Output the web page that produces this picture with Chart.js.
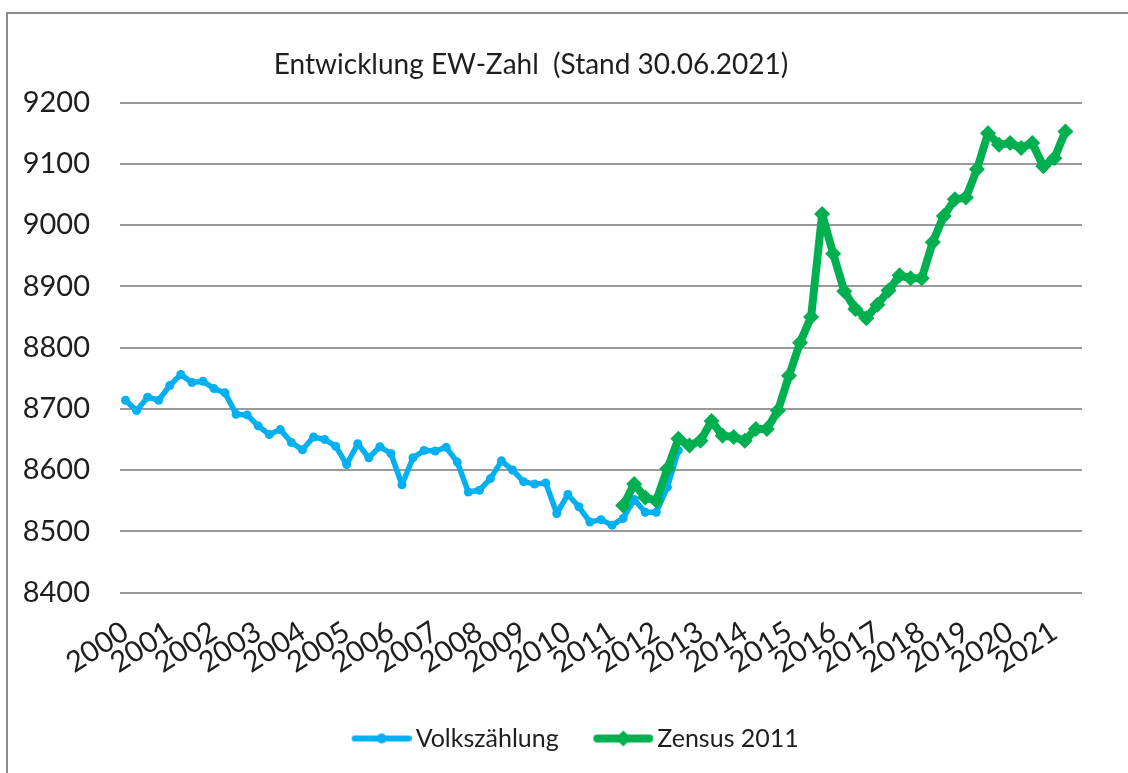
<!DOCTYPE html>
<html lang="de">
<head>
  <meta charset="UTF-8" />
  <title>Entwicklung EW-Zahl</title>
  <script src="https://cdn.jsdelivr.net/npm/chart.js"></script>
  <style>
    html, body { margin: 0; padding: 0; background: #fff; overflow: hidden; }
    #chart { display: block; }
  </style>
</head>
<body>
  <canvas id="chart" width="1128" height="773"></canvas>

  <script>
    // Quartale 2000 bis 2021
    const years = [2000, 2001, 2002, 2003, 2004, 2005, 2006, 2007, 2008, 2009, 2010,
                   2011, 2012, 2013, 2014, 2015, 2016, 2017, 2018, 2019, 2020, 2021];
    const quarterEnds = ['31.03.', '30.06.', '30.09.', '31.12.'];
    const lastCategory = '30.09.2021';

    // Einwohner Fortschreibung Volkszählung (ab 31.03.2000)
    const volkszaehlung = [
      8714, 8697, 8719, 8714, 8738, 8756, 8743, 8745, 8733, 8726,
      8691, 8690, 8672, 8658, 8666, 8645, 8633, 8654, 8650, 8639,
      8609, 8643, 8620, 8638, 8627, 8576, 8620, 8632, 8631, 8637,
      8613, 8564, 8567, 8586, 8615, 8600, 8581, 8577, 8579, 8529,
      8560, 8540, 8515, 8519, 8510, 8521, 8552, 8531, 8531, 8572,
      8632
    ];

    // Einwohner Fortschreibung Zensus 2011 (ab 30.06.2011)
    const zensusStart = '30.06.2011';
    const zensus2011 = [
      8542, 8577, 8555, 8550, 8602, 8651, 8640, 8648, 8680, 8656,
      8654, 8648, 8667, 8667, 8697, 8754, 8808, 8850, 9018, 8953,
      8892, 8863, 8848, 8870, 8893, 8918, 8913, 8913, 8972, 9015,
      9042, 9045, 9091, 9150, 9131, 9134, 9126, 9134, 9096, 9109,
      9153
    ];

    const yMin = 8400, yMax = 9200, yStep = 100;

    const blue = '#00b0f0';
    const green = '#00b050';
    const textColor = '#1e1e1e';
    const fontFamily = 'Lato, "Open Sans", sans-serif';

    // Kategorien aufbauen
    const categories = [];
    for (const y of years) {
      for (const q of quarterEnds) {
        if (categories[categories.length - 1] === lastCategory) break;
        categories.push(q + y);
      }
    }
    const blueData = categories.map((c, i) => i < volkszaehlung.length ? volkszaehlung[i] : null);
    const gStart = categories.indexOf(zensusStart);
    const greenData = categories.map((c, i) => {
      const k = i - gStart;
      return k >= 0 && k < zensus2011.length ? zensus2011[k] : null;
    });

    // Legendensymbol: Linie mit Marker
    const BOX_W = 76;
    function legendSymbol(color, lineW, marker, r) {
      const c = document.createElement('canvas');
      c.width = BOX_W + 17;
      c.height = 24;
      const g = c.getContext('2d');
      const x0 = c.width - 60, x1 = c.width, cy = 12;
      g.strokeStyle = color;
      g.fillStyle = color;
      g.lineWidth = lineW;
      g.lineCap = 'round';
      g.beginPath();
      g.moveTo(x0 + lineW / 2, cy);
      g.lineTo(x1 - lineW / 2, cy);
      g.stroke();
      const cx = (x0 + x1) / 2;
      g.beginPath();
      if (marker === 'circle') {
        g.arc(cx, cy, r, 0, Math.PI * 2);
      } else {
        g.moveTo(cx, cy - r); g.lineTo(cx + r, cy); g.lineTo(cx, cy + r); g.lineTo(cx - r, cy);
        g.closePath();
      }
      g.fill();
      return c;
    }
    const symbols = [legendSymbol(blue, 6, 'circle', 5), legendSymbol(green, 8, 'diamond', 8)];

    // Rahmen (links/oben) und Verschiebung von Titel/Legende wie im Original
    const frame = {
      id: 'frame',
      beforeDraw(chart) {
        const ctx = chart.ctx;
        ctx.save();
        ctx.strokeStyle = '#8c8c8c';
        ctx.lineWidth = 2;
        ctx.beginPath();
        ctx.moveTo(7, chart.height + 5);
        ctx.lineTo(7, 13);
        ctx.lineTo(chart.width + 5, 13);
        ctx.stroke();
        ctx.restore();
      },
      afterLayout(chart) {
        chart.titleBlock.left -= 10; chart.titleBlock.right -= 10;
        chart.legend.left += 22; chart.legend.right += 22;
      }
    };

    new Chart(document.getElementById('chart'), {
      type: 'line',
      data: {
        labels: categories,
        datasets: [
          {
            label: 'Volkszählung',
            data: blueData,
            borderColor: blue,
            backgroundColor: blue,
            borderWidth: 5.5,
            pointRadius: 4.5,
            pointBorderWidth: 0,
            pointStyle: 'circle',
            borderJoinStyle: 'round',
            borderCapStyle: 'round',
            tension: 0,
            order: 2,
          },
          {
            label: 'Zensus 2011',
            data: greenData,
            borderColor: green,
            backgroundColor: green,
            borderWidth: 8,
            pointRadius: 8,
            pointBorderWidth: 0,
            pointStyle: 'rectRot',
            borderJoinStyle: 'round',
            borderCapStyle: 'round',
            tension: 0,
            order: 1,
          },
        ],
      },
      options: {
        responsive: false,
        devicePixelRatio: 1,
        animation: false,
        layout: { padding: { left: 0, right: 46, top: 0, bottom: 12 } },
        scales: {
          x: {
            offset: true,
            grid: { display: false, drawTicks: false },
            border: { display: false },
            afterFit: scale => { scale.height = 123.5; },
            ticks: {
              autoSkip: false,
              minRotation: 33,
              maxRotation: 33,
              padding: 22,
              color: textColor,
              font: { family: fontFamily, size: 29 },
              callback: function (value, index) {
                return index % 4 === 0 ? String(years[index / 4]) : '';
              },
            },
          },
          y: {
            min: yMin,
            max: yMax,
            grid: { color: '#9a9a9a', lineWidth: 2, drawTicks: false },
            border: { display: false },
            afterFit: scale => { scale.width = 120; },
            ticks: {
              stepSize: yStep,
              padding: 30,
              color: textColor,
              font: { family: fontFamily, size: 29 },
              callback: value => String(value),
            },
          },
        },
        plugins: {
          title: {
            display: true,
            text: 'Entwicklung EW-Zahl  (Stand 30.06.2021)',
            color: textColor,
            font: { family: fontFamily, size: 28, weight: 'normal' },
            padding: { top: 48, bottom: 21 },
          },
          legend: {
            position: 'bottom',
            labels: {
              usePointStyle: true,
              pointStyleWidth: BOX_W,
              padding: 10,
              color: textColor,
              font: { family: fontFamily, size: 25 },
              sort: (a, b) => a.datasetIndex - b.datasetIndex,
              generateLabels: chart => {
                const items = Chart.defaults.plugins.legend.labels.generateLabels(chart);
                items.forEach(it => { it.pointStyle = symbols[it.datasetIndex]; });
                return items;
              },
            },
          },
          tooltip: { enabled: false },
        },
      },
      plugins: [frame],
    });
  </script>
</body>
</html>
